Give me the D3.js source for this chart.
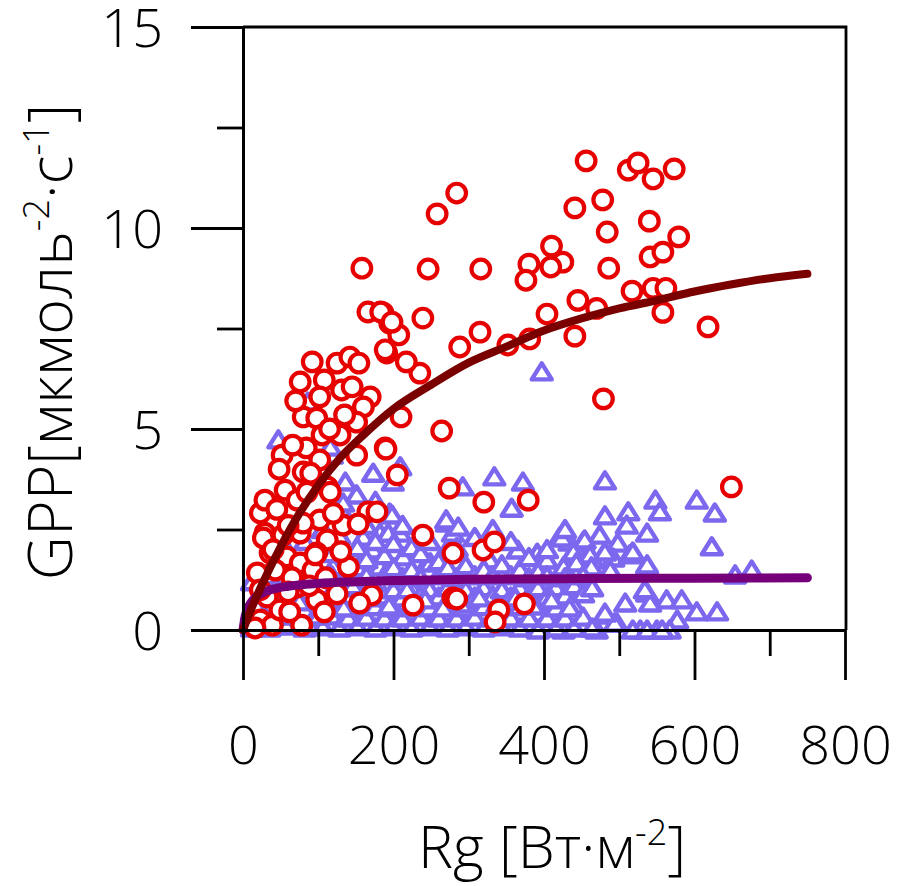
<!DOCTYPE html>
<html>
<head>
<meta charset="utf-8">
<script src="https://cdn.jsdelivr.net/npm/d3@7"></script>
<style>
  body { margin: 0; background: #fff; }
  text { font-family: "Open Sans", "Noto Sans", sans-serif; font-weight: 350; fill: #000; }
</style>
</head>
<body>
<svg id="chart" width="901" height="886"></svg>
<script>
// axis ticks
const xTicks = [0, 200, 400, 600, 800];
const xMinor = [100, 300, 500, 700];
const yTicks = [0, 5, 10, 15];
const yMinor = [2.5, 7.5, 12.5];

// red circles: [Rg, GPP]
const redPts = [
  [456,11.67],[512,11.44],[525,11.62],[545,11.22],[573,11.47],[284,10.87],[258,10.35],[441,10.5],
  [478,10.7],[484,9.9],[540,10.17],[579,9.78],[410,9.55],[425,9.15],[409,9.03],[380,9.1],[376,8.7],
  [486,9.0],[541,9.28],[558,9.4],[246,8.98],[316,8.98],[158,9.0],[445,8.2],[470,8.0],[517,8.43],
  [545,8.5],[562,8.5],[558,7.9],[618,7.54],[404,7.86],[441,7.31],[381,7.24],[352,7.09],[315,7.41],
  [288,7.04],[239,7.76],[479,5.75],[264,4.95],[210,5.3],[235,6.39],[217,6.67],[191,6.89],[195,7.63],
  [186,7.89],[207,7.34],[166,7.91],[183,7.91],[198,7.66],[649,3.56],[189,6.97],
  [92,6.67],[125,6.64],[142,6.79],[154,6.64],[76,6.17],[108,6.22],[102,5.8],[131,5.97],[145,6.05],
  [169,5.8],[160,5.55],[80,5.3],[98,5.27],[105,4.85],[129,4.85],[151,5.17],[135,5.35],[84,4.53],
  [52,4.35],[102,4.23],[151,4.35],[189,4.53],[80,3.93],[205,3.86],[56,3.48],[112,3.56],[32,3.16],
  [23,2.91],[72,3.23],[166,2.94],[178,2.94],[102,2.74],[133,2.61],[153,2.64],[29,2.41],[76,2.41],
  [112,2.24],[239,2.36],[36,1.92],[58,1.82],[76,1.67],[98,1.92],[140,1.57],[19,1.42],[93,1.49],
  [72,1.07],[32,0.82],[98,0.75],[171,0.87],[155,0.67],[226,0.62],[279,0.8],[23,0.25],[39,0.12],
  [78,0.12],[49,0.5],[85,3.43],[116,3.43],[29,3.23],[27,2.29],[53,2.36],[80,2.66],[96,1.87],[43,1.49],
  [23,1.0],[62,0.45],[16,0.05],[274,3.53],[320,3.18],[379,3.23],[279,1.91],[319,1.99],[334,2.19],
  [284,0.77],[340,0.5],[335,0.2],[374,0.65],[190,4.5],
  [45,3.0],[60,2.6],[40,2.0],[65,1.3],[88,1.1],[110,1.3],[120,2.9],[125,0.9],[48,4.0],[66,4.6],
  [115,5.0],[90,3.9],[70,5.7],[60,0.95],[108,0.45],[130,1.95]
];

// purple triangles: [Rg, GPP]
const bluePts = [
  [397,6.42],[47,4.73],[86,5.67],[118,4.35],[116,4.55],[173,3.9],[209,4.06],[199,3.68],[151,3.36],
  [136,3.68],[133,3.16],[195,2.91],[182,2.41],[209,2.41],[160,2.31],[173,1.99],[213,1.82],[245,1.67],
  [271,2.66],[279,2.41],[146,1.82],[129,2.06],[120,1.57],[182,1.57],
  [334,3.81],[372,3.68],[481,3.71],[292,3.56],[357,3.03],[198,2.86],[270,2.74],[286,2.56],[193,2.41],
  [548,3.23],[554,2.94],[603,3.23],[627,2.91],[623,2.07],[481,2.84],[512,2.94],[510,2.61],[537,2.41],
  [421,2.31],[434,2.19],[452,2.19],[474,2.36],[498,2.16],[365,1.99],[391,1.91],[404,1.74],[448,1.87],
  [465,1.74],[492,1.79],[514,1.87],[537,1.62],[654,1.37],[676,1.49],[249,1.67],[271,1.99],[328,1.74],
  [508,0.67],[537,0.92],[563,0.75],[583,0.75],[603,0.45],[630,0.45],[577,0.25],[481,0.37],[497,0.17],
  [470,0],[431,0.75],[421,0.5],[391,0.42],[412,0.3],[528,0],[550,0],[567,0],
  [424,2.29],[454,2.24],[439,1.94],[461,1.87],[481,1.94],[518,1.94],[426,1.57],[443,1.67],[463,1.57],
  [488,1.49],[401,1.0],[541,0.67],[534,1.0],[494,0.17],[518,0],[537,0],[557,0],[392,0],[426,0],[481,0.42],
  [12,0.05],[12,0.45],[12,1.2],[22,0.2],[22,0.8],[35,0.05],[35,0.55],[35,1.35],[45,0.3],[45,0.9],[45,1.7],
  [58,0.1],[58,0.62],[58,1.15],[58,2.0],[68,0.35],[68,0.95],[68,1.55],[82,0.05],[82,0.5],[82,1.25],[82,2.2],
  [94,0.3],[94,0.85],[94,1.6],[106,0.08],[106,0.6],[106,1.05],[106,2.5],[118,0.35],[118,0.95],[118,1.35],
  [118,1.9],[128,0.05],[128,0.6],[128,1.1],[128,2.35],[140,0.3],[140,0.85],[140,1.3],[140,2.7],
  [152,0.08],[152,0.55],[152,1.05],[152,1.55],[152,2.05],[164,0.32],[164,0.8],[164,1.35],[164,1.75],
  [164,2.6],[176,0.05],[176,0.58],[176,1.05],[176,2.2],[176,3.2],[188,0.3],[188,0.85],[188,1.35],
  [188,1.85],[200,0.08],[200,0.55],[200,1.0],[200,1.55],[200,2.15],[212,0.3],[212,0.8],[212,1.3],
  [212,2.6],[224,0.05],[224,0.55],[224,1.05],[224,1.5],[224,2.05],[236,0.32],[236,0.85],[236,1.3],
  [236,1.9],[248,0.08],[248,0.55],[248,1.0],[248,2.2],[260,0.3],[260,0.82],[260,1.35],[260,1.7],
  [272,0.05],[272,0.58],[272,1.05],[272,1.55],[284,0.3],[284,0.85],[284,1.3],[284,2.05],[296,0.08],
  [296,0.55],[296,1.0],[296,1.6],[308,0.32],[308,0.82],[308,1.35],[308,2.3],[320,0.05],[320,0.58],
  [320,1.05],[320,1.5],[332,0.3],[332,0.85],[332,1.35],[332,2.5],[344,0.08],[344,0.55],[344,1.0],
  [344,1.62],[356,0.3],[356,0.82],[356,1.35],[356,2.2],[368,0.05],[368,0.58],[368,1.05],[368,1.5],
  [380,0.3],[380,0.85],[380,1.3],[380,1.8],[392,0.6],[392,1.05],[392,1.45],[404,0.3],[404,0.82],
  [404,1.35],[404,2.0],[416,0.05],[416,0.55],[416,1.05],[428,0.3],[428,0.85],[428,1.3],[428,2.5],
  [440,0.05],[440,0.6],[440,1.1],[452,0.32],[452,0.9],[452,1.35],[464,0.05],[464,1.05],
  [18,0.6],[30,0.3],[52,0.8],[75,0.7],[100,0.35],[112,0.75],[134,0.55],[146,1.1],[170,0.8],[194,0.6],
  [218,1.0],[242,0.75],[266,0.55],[290,0.65],[314,0.8],[338,0.65],[362,0.8],[386,0.6],[410,0.75],[434,0.55]
];

// fitted curves: [Rg, GPP]
const redFit = [
  [0,0],[10,0.48],[25,1.12],[50,2.07],[75,2.9],[100,3.6],[130,4.3],[160,4.85],[200,5.5],[250,6.1],
  [300,6.65],[350,7.05],[400,7.45],[450,7.75],[500,8.0],[550,8.2],[600,8.42],[650,8.6],[700,8.75],[750,8.86]
];
const purpleFit = [
  [0,0],[3,0.35],[8,0.6],[15,0.78],[25,0.92],[40,1.02],[60,1.09],[100,1.16],[150,1.2],[200,1.23],
  [300,1.26],[450,1.28],[600,1.29],[750,1.3]
];

const svg = d3.select("#chart");
const x = d3.scaleLinear().domain([0, 800]).range([243, 845]);
const y = d3.scaleLinear().domain([0, 15]).range([630, 27]);

// frame (top + right)
svg.append("path")
  .attr("d", `M${x(0)},${y(15)}H${x(800) + 1}V${y(0)}`)
  .attr("fill", "none").attr("stroke", "#000").attr("stroke-width", 2.8);

// triangles
const tri = "M0,-9.5L10,6.5L-10,6.5Z";
svg.append("g").selectAll("path")
  .data(bluePts).join("path")
  .attr("d", tri)
  .attr("transform", (d) => `translate(${x(d[0])},${y(d[1]) + 1})`)
  .attr("fill", "#fff").attr("stroke", "#7b68ee")
  .attr("stroke-width", 4.4).attr("stroke-linejoin", "round");

// circles
svg.append("g").selectAll("circle")
  .data(redPts).join("circle")
  .attr("cx", (d) => x(d[0])).attr("cy", (d) => y(d[1])).attr("r", 9.3)
  .attr("fill", "#fff").attr("stroke", "#e60000").attr("stroke-width", 4.2);

const line = d3.line().x((d) => x(d[0])).y((d) => y(d[1])).curve(d3.curveMonotoneX);

svg.append("path").datum(purpleFit).attr("d", line)
  .attr("fill", "none").attr("stroke", "#76007a").attr("stroke-width", 9).attr("stroke-linecap", "round");
svg.append("path").datum(redFit).attr("d", line)
  .attr("fill", "none").attr("stroke", "#7a0000").attr("stroke-width", 8).attr("stroke-linecap", "round");

// axes
svg.append("g").attr("transform", `translate(0,${y(0)})`)
  .call(d3.axisBottom(x).tickValues(xTicks).tickSize(50).tickSizeOuter(0).tickPadding(46));
svg.append("g").attr("transform", `translate(0,${y(0)})`)
  .call(d3.axisBottom(x).tickValues(xMinor).tickSize(26).tickSizeOuter(0).tickFormat(""));
const yAxis = svg.append("g").attr("transform", `translate(${x(0)},0)`)
  .call(d3.axisLeft(y).tickValues(yTicks).tickSize(52).tickSizeOuter(0).tickPadding(28));
svg.append("g").attr("transform", `translate(${x(0)},0)`)
  .call(d3.axisLeft(y).tickValues(yMinor).tickSize(26).tickSizeOuter(0).tickFormat(""));

svg.selectAll(".domain, .tick line").attr("stroke", "#000").attr("stroke-width", 2.8);
svg.selectAll(".tick text").style("font-size", "54px").style("font-weight", 350).attr("fill", "#000");
yAxis.selectAll(".tick text").attr("dy", "0.36em");

// x title
const xt = svg.append("text").attr("x", 552).attr("y", 868)
  .attr("text-anchor", "middle").style("font-size", "59px");
xt.append("tspan").text("Rg [Вт·м");
xt.append("tspan").attr("dy", -23).style("font-size", "36px").text("-2");
xt.append("tspan").attr("dy", 23).text("]");

// y title
const yt = svg.append("text").attr("transform", "translate(72,342) rotate(-90)")
  .attr("text-anchor", "middle").style("font-size", "61px");
yt.append("tspan").text("GPP[мкмоль");
yt.append("tspan").attr("dy", -23).style("font-size", "36px").text("-2");
yt.append("tspan").attr("dy", 23).text("·с");
yt.append("tspan").attr("dy", -23).style("font-size", "36px").text("-1");
yt.append("tspan").attr("dy", 23).text("]");
</script>
</body>
</html>
